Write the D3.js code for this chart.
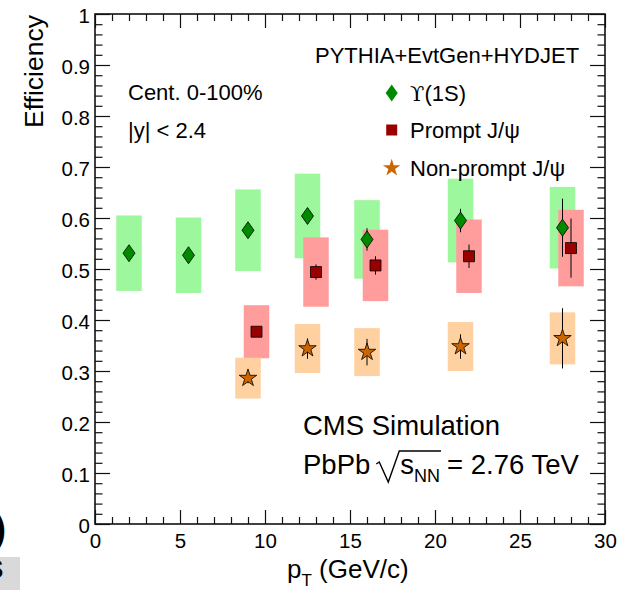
<!DOCTYPE html>
<html><head><meta charset="utf-8">
<script src="https://cdn.jsdelivr.net/npm/d3@7"></script>
<style>
html,body{margin:0;padding:0;background:#fff;}
svg{display:block;font-family:"Liberation Sans",Arial,Helvetica,sans-serif;}
</style></head><body>
<svg id="chart" width="621" height="590"></svg>
<script>
// Upsilon(1S)
const ptUpsilon   = [2, 5.5, 9, 12.5, 16, 21.5, 27.5];
const effUpsilon  = [0.531, 0.527, 0.576, 0.604, 0.558, 0.595, 0.581];
const statUpsilon = [0.008, 0.008, 0.010, 0.012, 0.022, 0.023, 0.057];
const systUpsilon = [0.074, 0.074, 0.080, 0.083, 0.077, 0.082, 0.080];

// Prompt J/psi
const ptPrompt   = [9.5, 13, 16.5, 22, 28];
const effPrompt  = [0.377, 0.494, 0.507, 0.525, 0.541];
const statPrompt = [0.008, 0.015, 0.018, 0.023, 0.058];
const systPrompt = [0.052, 0.068, 0.070, 0.072, 0.075];

// Non-prompt J/psi
const ptNonPrompt   = [9, 12.5, 16, 21.5, 27.5];
const effNonPrompt  = [0.286, 0.344, 0.337, 0.348, 0.364];
const statNonPrompt = [0.010, 0.020, 0.026, 0.024, 0.059];
const systNonPrompt = [0.040, 0.048, 0.047, 0.048, 0.051];

// legend entries: [symbol, rest of label]
const legendLabels = [["\u03D2", "(1S)"], ["", "Prompt J/\u03C8"], ["", "Non-prompt J/\u03C8"]];
const xTickValues = [0, 5, 10, 15, 20, 25, 30];
const xTickLabels = ["0", "5", "10", "15", "20", "25", "30"];
const yTickValues = [0, 0.1, 0.2, 0.3, 0.4, 0.5, 0.6, 0.7, 0.8, 0.9, 1];
const yTickLabels = ["0", "0.1", "0.2", "0.3", "0.4", "0.5", "0.6", "0.7", "0.8", "0.9", "1"];

// half-width of the systematic boxes, in GeV/c
const boxHalfWidth = 0.75;

const svg = d3.select("#chart");
const W = 621, H = 590;
const margin = {left: 95, right: 16, top: 14, bottom: 66};

const x = d3.scaleLinear().domain([0, 30]).range([margin.left, W - margin.right]);
const y = d3.scaleLinear().domain([0, 1]).range([H - margin.bottom, margin.top]);

const axisColor = "#111";
const labelFont = 20.5;
const textFont = 22;

// ---- series definitions
const series = [
  {pt: ptUpsilon, eff: effUpsilon, stat: statUpsilon, syst: systUpsilon,
   box: "#9df79d", fill: "#008a00", shape: "diamond"},
  {pt: ptPrompt, eff: effPrompt, stat: statPrompt, syst: systPrompt,
   box: "#ff9d9d", fill: "#990000", shape: "square"},
  {pt: ptNonPrompt, eff: effNonPrompt, stat: statNonPrompt, syst: systNonPrompt,
   box: "#ffd0a0", fill: "#cc6600", shape: "star"}
];

function markerPath(shape) {
  if (shape === "diamond") {
    return "M0,-8.5L6,0L0,8.5L-6,0Z";
  } else if (shape === "square") {
    return "M-5.5,-5.5H5.5V5.5H-5.5Z";
  }
  return d3.symbol().type(d3.symbolStar).size(95)();
}

// ---- systematic boxes
const gBoxes = svg.append("g");
series.forEach(s => {
  gBoxes.selectAll(null)
    .data(s.pt.map((p, i) => ({p, e: s.eff[i], u: s.syst[i]})))
    .join("rect")
    .attr("x", d => x(d.p - boxHalfWidth))
    .attr("width", d => x(d.p + boxHalfWidth) - x(d.p - boxHalfWidth))
    .attr("y", d => y(d.e + d.u))
    .attr("height", d => y(d.e - d.u) - y(d.e + d.u))
    .attr("fill", s.box);
});

// ---- statistical error bars
const gErr = svg.append("g");
series.forEach(s => {
  gErr.selectAll(null)
    .data(s.pt.map((p, i) => ({p, e: s.eff[i], u: s.stat[i]})))
    .join("line")
    .attr("x1", d => x(d.p)).attr("x2", d => x(d.p))
    .attr("y1", d => y(d.e + d.u)).attr("y2", d => y(d.e - d.u))
    .attr("stroke", "#000").attr("stroke-width", 1);
});

// ---- markers
const gMarks = svg.append("g");
series.forEach(s => {
  gMarks.selectAll(null)
    .data(s.pt.map((p, i) => ({p, e: s.eff[i]})))
    .join("path")
    .attr("d", markerPath(s.shape))
    .attr("transform", d => `translate(${x(d.p)},${y(d.e)})`)
    .attr("fill", s.fill)
    .attr("stroke", "#000").attr("stroke-width", 0.8);
});

// ---- axes (ticks on all four sides, pointing inward)
const xMinor = d3.range(0, 31, 1).filter(v => v % 5 !== 0);
const yMinor = d3.range(0, 51, 1).map(v => v / 50).filter((v, i) => i % 5 !== 0);

function styleAxis(g) {
  g.select(".domain").remove();
  g.selectAll(".tick line").attr("stroke", axisColor).attr("stroke-width", 1.2);
  g.selectAll("text").attr("fill", "#000").attr("font-size", labelFont)
    .attr("font-family", '"Liberation Sans",Arial,Helvetica,sans-serif');
}

const bottomY = y(0), topY = y(1), leftX = x(0), rightX = x(30);

svg.append("g").attr("transform", `translate(0,${bottomY})`)
  .call(d3.axisBottom(x).tickValues(xTickValues).tickSize(-14).tickPadding(9)
    .tickFormat((d, i) => xTickLabels[i]))
  .call(styleAxis);
svg.append("g").attr("transform", `translate(0,${bottomY})`)
  .call(d3.axisBottom(x).tickValues(xMinor).tickSize(-7).tickFormat(""))
  .call(styleAxis);
svg.append("g").attr("transform", `translate(0,${topY})`)
  .call(d3.axisTop(x).tickValues(xTickValues).tickSize(-14).tickFormat(""))
  .call(styleAxis);
svg.append("g").attr("transform", `translate(0,${topY})`)
  .call(d3.axisTop(x).tickValues(xMinor).tickSize(-7).tickFormat(""))
  .call(styleAxis);

const gLeft = svg.append("g").attr("transform", `translate(${leftX},0)`)
  .call(d3.axisLeft(y).tickValues(yTickValues).tickSize(-15).tickPadding(5)
    .tickFormat((d, i) => yTickLabels[i]))
  .call(styleAxis);
gLeft.selectAll("text").attr("dy", "0.42em");
svg.append("g").attr("transform", `translate(${leftX},0)`)
  .call(d3.axisLeft(y).tickValues(yMinor).tickSize(-7.5).tickFormat(""))
  .call(styleAxis);
svg.append("g").attr("transform", `translate(${rightX},0)`)
  .call(d3.axisRight(y).tickValues(yTickValues).tickSize(-15).tickFormat(""))
  .call(styleAxis);
svg.append("g").attr("transform", `translate(${rightX},0)`)
  .call(d3.axisRight(y).tickValues(yMinor).tickSize(-7.5).tickFormat(""))
  .call(styleAxis);

// frame
svg.append("rect")
  .attr("x", leftX).attr("y", topY)
  .attr("width", rightX - leftX).attr("height", bottomY - topY)
  .attr("fill", "none").attr("stroke", axisColor).attr("stroke-width", 1.6);

// ---- axis titles
svg.append("text")
  .attr("transform", `translate(43,15) rotate(-90)`)
  .attr("text-anchor", "end")
  .attr("font-size", 26.5)
  .text("Efficiency");

const xt = svg.append("text").attr("x", 287).attr("y", 578).attr("font-size", 26);
xt.append("tspan").text("p");
xt.append("tspan").attr("font-size", 17).attr("dy", 8).text("T");
xt.append("tspan").attr("dy", -8).text(" (GeV/c)");

// ---- annotations
const annot = svg.append("g").attr("font-size", textFont).attr("fill", "#000");
annot.append("text").attr("x", 128).attr("y", 100).text("Cent. 0-100%");
annot.append("text").attr("x", 128).attr("y", 138).text("|y| < 2.4");
annot.append("text").attr("x", 315).attr("y", 63).text("PYTHIA+EvtGen+HYDJET");

// legend
const legY = [93, 130, 168];
series.forEach((s, i) => {
  annot.append("path")
    .attr("d", markerPath(s.shape))
    .attr("transform", `translate(391.7,${legY[i]})`)
    .attr("fill", s.fill);
  const lt = annot.append("text").attr("x", 410).attr("y", legY[i] + 7.5);
  if (legendLabels[i][0]) {
    lt.append("tspan").attr("font-family", '"DejaVu Serif","DejaVu Sans",serif')
      .attr("font-size", 21).text(legendLabels[i][0]);
  }
  lt.append("tspan").text(legendLabels[i][1]);
});

// CMS label
const cmsG = svg.append("g").attr("font-size", 27.5);
cmsG.append("text").attr("x", 303).attr("y", 435).text("CMS Simulation");

// PbPb sqrt(s_NN) = 2.76 TeV, laid out piece by piece
const lineY = 474;
let cx = 303;
const t1 = cmsG.append("text").attr("x", cx).attr("y", lineY).text("PbPb");
cx += t1.node().getComputedTextLength() + 6;
const rootX0 = cx, rootW = 23;
const t2 = cmsG.append("text").attr("x", cx + rootW + 1).attr("y", lineY).text("s");
const sW = t2.node().getComputedTextLength();
const t3 = cmsG.append("text").attr("x", cx + rootW + 1 + sW).attr("y", lineY + 8)
  .attr("font-size", 18).text("NN");
const nnW = t3.node().getComputedTextLength();
const barEnd = cx + rootW + 1 + sW + nnW + 1;
cmsG.append("path")
  .attr("d", `M${rootX0},${lineY - 10} L${rootX0 + 3},${lineY - 12} L${rootX0 + 12},${lineY + 8} L${rootX0 + rootW},${lineY - 23} H${barEnd}`)
  .attr("fill", "none").attr("stroke", "#000").attr("stroke-width", 1.4);
cmsG.append("text").attr("x", barEnd + 6).attr("y", lineY).text("= 2.76 TeV");

// clipped fragments along the left edge
svg.append("rect").attr("x", 0).attr("y", 557).attr("width", 20).attr("height", 33).attr("fill", "#d9d9d9");
svg.append("text").attr("x", -6).attr("y", 541).attr("font-size", 36).attr("font-weight", "bold").text(")");
svg.append("text").attr("x", -14).attr("y", 578).attr("font-size", 26).attr("font-weight", "bold").text("S");
</script>
</body></html>
